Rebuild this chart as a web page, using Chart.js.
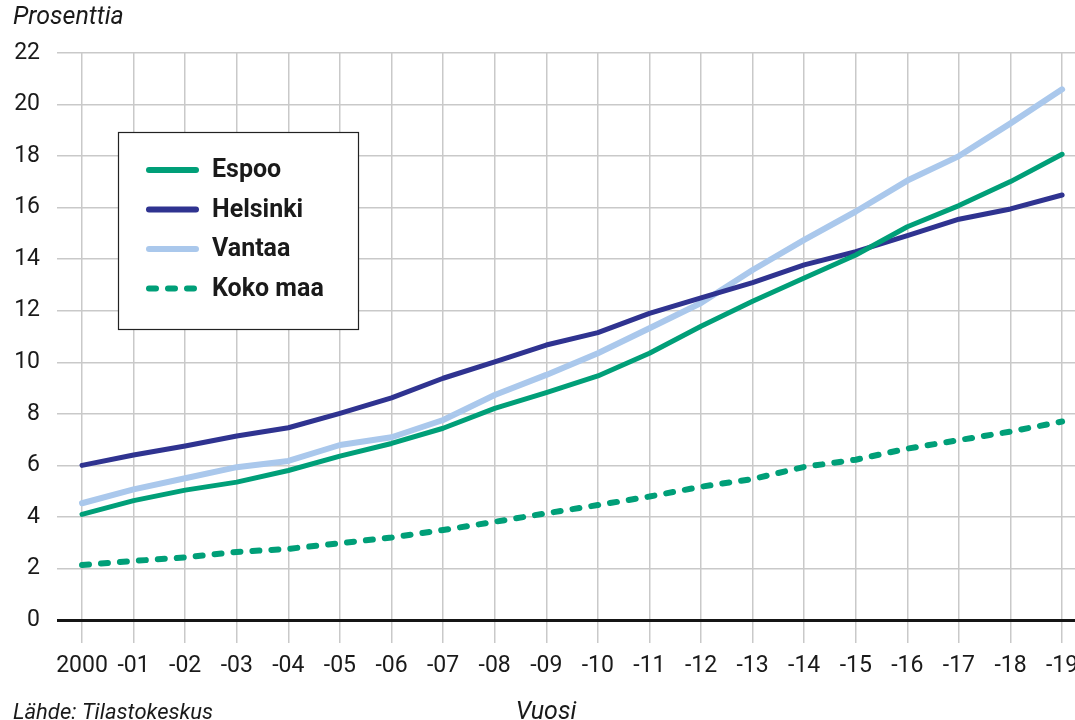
<!DOCTYPE html>
<html lang="fi">
<head>
<meta charset="utf-8">
<title>Prosenttia</title>
<script src="https://cdn.jsdelivr.net/npm/chart.js@4.4.1/dist/chart.umd.min.js"></script>
<style>
  html, body { margin: 0; padding: 0; background: #fff; }
  #wrap { width: 1075px; height: 720px; position: relative; }
</style>
</head>
<body>
<div id="wrap"><canvas id="chart"></canvas></div>
<script>
const years = [2000, 2001, 2002, 2003, 2004, 2005, 2006, 2007, 2008, 2009,
  2010, 2011, 2012, 2013, 2014, 2015, 2016, 2017, 2018, 2019];
const yearLabels = ["2000", "-01", "-02", "-03", "-04", "-05", "-06", "-07", "-08", "-09",
  "-10", "-11", "-12", "-13", "-14", "-15", "-16", "-17", "-18", "-19"];

const espoo = [4.1, 4.63, 5.04, 5.35, 5.8, 6.36, 6.85, 7.44, 8.21, 8.82,
  9.47, 10.35, 11.4, 12.37, 13.27, 14.16, 15.26, 16.08, 17.01, 18.07];
const helsinki = [6.0, 6.4, 6.75, 7.14, 7.46, 8.02, 8.62, 9.38, 10.02, 10.67,
  11.15, 11.9, 12.5, 13.09, 13.78, 14.29, 14.91, 15.55, 15.95, 16.49];
const vantaa = [4.53, 5.07, 5.5, 5.93, 6.17, 6.79, 7.09, 7.76, 8.73, 9.51,
  10.35, 11.32, 12.3, 13.58, 14.75, 15.85, 17.05, 18.0, 19.27, 20.59];
const kokoMaa = [2.13, 2.29, 2.43, 2.64, 2.76, 2.98, 3.2, 3.49, 3.81, 4.14,
  4.46, 4.79, 5.17, 5.47, 5.94, 6.22, 6.65, 6.98, 7.31, 7.7];

const FONT = "Roboto, 'Liberation Sans', sans-serif";
const TEXT = "#1a1a1a";
const GRID = "#c9c9c9";

const toPoints = (vals) => vals.map((v, i) => ({ x: years[i], y: v }));

// legend drawn as a framed box inside the plot area
const boxLegend = {
  id: "boxLegend",
  afterDraw(chart) {
    const ctx = chart.ctx;
    const x = 118, y = 132, w = 240, h = 197;
    ctx.save();
    ctx.fillStyle = "#fff";
    ctx.fillRect(x, y, w, h);
    ctx.strokeStyle = "#222";
    ctx.lineWidth = 1.2;
    ctx.strokeRect(x + 0.5, y + 0.5, w, h);
    ctx.font = "bold 25px " + FONT;
    ctx.textBaseline = "middle";
    chart.data.datasets.forEach((ds, i) => {
      const ry = 170 + i * 39.5;
      ctx.beginPath();
      ctx.strokeStyle = ds.borderColor;
      ctx.lineWidth = 6;
      ctx.lineCap = "round";
      ctx.setLineDash(ds.borderDash || []);
      ctx.moveTo(149, ry);
      ctx.lineTo(196, ry);
      ctx.stroke();
      ctx.setLineDash([]);
      ctx.fillStyle = TEXT;
      ctx.fillText(ds.label, 212, ry + 1);
    });
    ctx.restore();
  }
};

const extraText = {
  id: "extraText",
  afterDraw(chart) {
    const ctx = chart.ctx;
    ctx.save();
    ctx.fillStyle = TEXT;
    ctx.textBaseline = "middle";
    ctx.textAlign = "left";
    ctx.font = "italic 25px " + FONT;
    ctx.fillText("Prosenttia", 13, 18);
    ctx.font = "italic 22px " + FONT;
    ctx.fillText("Lähde: Tilastokeskus", 13, 713);
    ctx.textAlign = "center";
    ctx.font = "italic 25px " + FONT;
    ctx.fillText("Vuosi", 546, 713);
    ctx.restore();
  }
};

new Chart(document.getElementById("chart"), {
  type: "line",
  data: {
    datasets: [
      {
        label: "Espoo",
        data: toPoints(espoo),
        borderColor: "#009f78",
        borderWidth: 5,
      },
      {
        label: "Helsinki",
        data: toPoints(helsinki),
        borderColor: "#2f3390",
        borderWidth: 5,
      },
      {
        label: "Vantaa",
        data: toPoints(vantaa),
        borderColor: "#aac8ec",
        borderWidth: 6,
      },
      {
        label: "Koko maa",
        data: toPoints(kokoMaa),
        borderColor: "#009f78",
        borderWidth: 6,
        borderDash: [7, 12],
      },
    ],
  },
  options: {
    responsive: true,
    maintainAspectRatio: false,
    animation: false,
    layout: { padding: { top: 53, right: 0, bottom: 0, left: 0 } },
    elements: {
      point: { radius: 0, hoverRadius: 0 },
      line: { tension: 0, borderCapStyle: "round", borderJoinStyle: "round", fill: false },
    },
    plugins: {
      legend: { display: false },
      tooltip: { enabled: false },
      title: { display: false },
    },
    scales: {
      x: {
        type: "linear",
        min: 1999.515,
        max: 2019.25,
        afterBuildTicks: (scale) => { scale.ticks = years.map((v) => ({ value: v })); },
        afterFit: (scale) => { scale.height = 100; scale.paddingLeft = 0; scale.paddingRight = 0; },
        grid: { color: GRID, lineWidth: 1.5, drawTicks: true, tickLength: 23, tickColor: GRID },
        border: { display: false },
        ticks: {
          autoSkip: false,
          maxRotation: 0,
          padding: 9,
          color: TEXT,
          font: { family: FONT, size: 23 },
          callback: (v) => yearLabels[years.indexOf(v)],
        },
      },
      y: {
        min: 0,
        max: 22,
        afterFit: (scale) => { scale.width = 57; },
        grid: {
          drawTicks: false,
          color: (c) => (c.tick && c.tick.value === 0 ? "#151515" : GRID),
          lineWidth: (c) => (c.tick && c.tick.value === 0 ? 3 : 1.5),
        },
        border: { display: false },
        ticks: {
          stepSize: 2,
          padding: 17,
          color: TEXT,
          font: { family: FONT, size: 23 },
        },
      },
    },
  },
  plugins: [boxLegend, extraText],
});
</script>
</body>
</html>
